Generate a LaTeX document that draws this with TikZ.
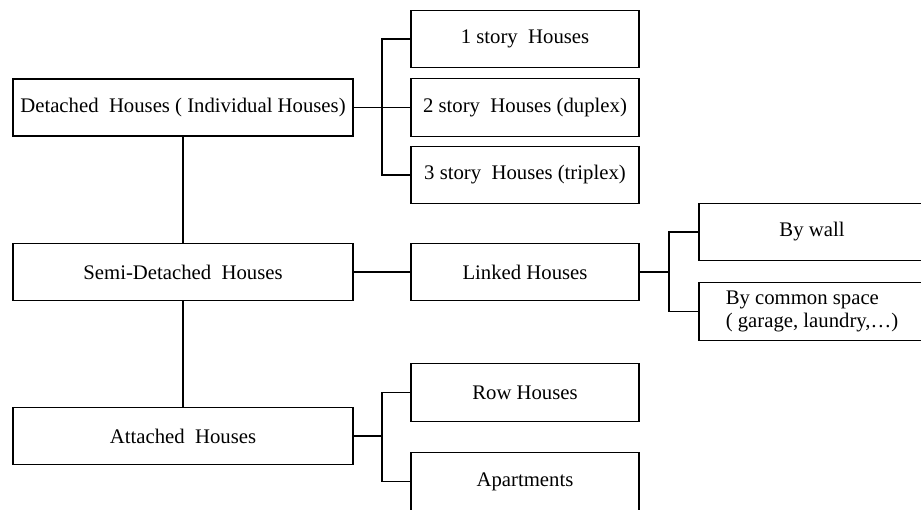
\documentclass[tikz,border=0pt]{standalone}
\usepackage{fontspec}
\setmainfont{Liberation Serif}
\usetikzlibrary{positioning}

\begin{document}
\begin{tikzpicture}[x=0.02cm, y=-0.02cm,
    box/.style={draw, line width=0.8pt, inner sep=0pt, align=center,
        font=\fontsize{11.8}{13.6}\selectfont},
    mainbox/.style={box, minimum width=6.8cm, minimum height=1.14cm},
    subbox/.style={box, minimum width=4.56cm, minimum height=1.15cm},
    farbox/.style={box, minimum width=4.52cm, minimum height=1.15cm},
    link/.style={line width=0.8pt}]

    \useasboundingbox (0,0) rectangle (921,510);
    \clip (0,0) rectangle (921,510);

    % Left column
    \node[mainbox] (det) at (183,107.5) {Detached\ \ Houses ( Individual Houses)};
    \node[mainbox] (semi) at (183,272) {Semi-Detached\ \ Houses};
    \node[mainbox] (att) at (183,436) {Attached\ \ Houses};

    % Middle column
    \node[subbox] (s1) at (525,39) {1 story\ \ Houses};
    \node[subbox] (s2) at (525,107.5) {2 story\ \ Houses (duplex)};
    \node[subbox] (s3) at (525,175) {3 story\ \ Houses (triplex)};
    \node[subbox] (linked) at (525,272) {Linked Houses};
    \node[subbox] (row) at (525,392.5) {Row Houses};
    \node[subbox] (apart) at (525,481.5) {Apartments};

    % Right column
    \node[farbox] (wall) at (812,232) {By wall};
    \node[farbox, align=left] (common) at (812,311.5) {By common space\\( garage, laundry,\dots)};

    % Bracket positions
    \coordinate (j1) at (382,0);
    \coordinate (j2) at (382,0);
    \coordinate (j3) at (669,0);

    \draw[link] (det.south) -- (semi.north);
    \draw[link] (semi.south) -- (att.north);

    \draw[link] (det.east) -- (s2.west);
    \draw[link] (s1.west) -- (s1.west -| j1) |- (s3.west);

    \draw[link] (semi.east) -- (linked.west);

    \draw[link] (linked.east) -- (linked.east -| j3);
    \draw[link] (wall.west) -- (wall.west -| j3) |- (common.west);

    \draw[link] (att.east) -- (att.east -| j2);
    \draw[link] (row.west) -- (row.west -| j2) |- (apart.west);

\end{tikzpicture}
\end{document}
